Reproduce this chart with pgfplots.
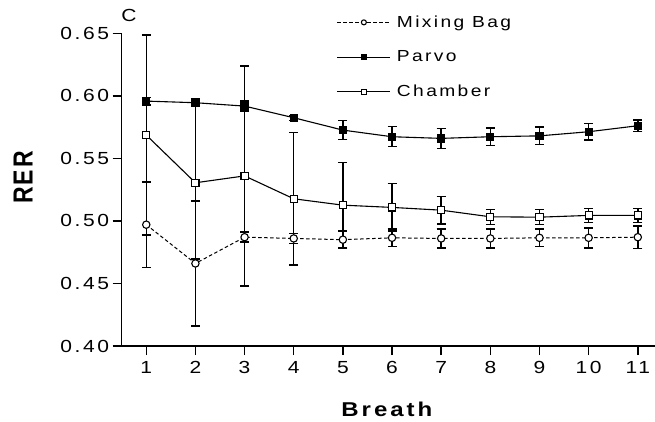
\documentclass[border=0pt]{standalone}
\usepackage{fontspec}
\setmainfont{Liberation Sans}[FakeStretch=1.2, LetterSpace=15]
\newfontfamily\rerfont{Liberation Sans}[LetterSpace=8]
\usepackage{pgfplots}
\pgfplotsset{compat=1.18}
\usepackage{pgfplotstable}

\pgfplotstableread{
x  mb     mbe     pa     pae     ch     che
1  0.497  0.034   0.5958 0.003   0.5686 0.080
2  0.466  0.050   0.5945 0.003   0.5305 0.061
3  0.487  0.004   0.5918 0.004   0.536  0.088
4  0.486  0.004   0.5825 0.002   0.5177 0.053
5  0.485  0.007   0.5726 0.0075  0.5126 0.034
6  0.4865 0.007   0.5673 0.008   0.5108 0.019
7  0.486  0.0075  0.566  0.008   0.5086 0.011
8  0.486  0.0075  0.5673 0.007   0.5033 0.006
9  0.4865 0.007   0.568  0.007   0.503  0.006
10 0.4865 0.008   0.5713 0.0065  0.5044 0.0055
11 0.487  0.009   0.5761 0.0045  0.5044 0.0055
}\datatable

\begin{document}
\begin{tikzpicture}
\begin{axis}[
  scale only axis, width=533.3pt, height=312.7pt,
  xmin=0.5, xmax=11.35, ymin=0.40, ymax=0.65,
  clip=false,
  axis x line*=bottom, axis y line*=left,
  axis line style={line width=1.4pt, -},
  every tick/.style={black, line width=1.4pt},
  major tick length=9pt, tick align=outside,
  xtick={1,...,11}, ytick={0.40,0.45,0.50,0.55,0.60,0.65},
  /pgf/number format/assume math mode=true,
  yticklabel style={/pgf/number format/fixed, /pgf/number format/fixed zerofill, /pgf/number format/precision=2},
  xticklabel style={yshift=-3pt},
  ticklabel style={font=\fontsize{17.5}{20}\selectfont},
  xlabel={\textbf{Breath}},
  ylabel={\scalebox{1}[1.2]{\rerfont\bfseries RER}},
  label style={font=\fontsize{20}{24}\selectfont},
  xlabel style={at={(axis description cs:0.5,-0.201)}, anchor=center},
  ylabel style={at={(axis description cs:-0.185,0.539)}, anchor=center, font=\fontsize{23}{26}\selectfont},
  legend style={draw=none, fill=none, at={(rel axis cs:0.403,1.063)}, anchor=north west,
    font=\fontsize{16}{19}\selectfont, row sep=18pt, inner sep=0pt},
  legend cell align=left,
  legend image code/.code={\draw[mark repeat=2, mark phase=2, #1, mark size=2.5pt] plot coordinates {(0pt,0pt) (26.5pt,0pt) (53pt,0pt)}; \path (57pt,0pt);},
  every axis plot/.append style={line width=1pt, black},
]
% error bars first
\addplot[forget plot, draw=none, error bars/.cd, y dir=both, y explicit,
  error bar style={line width=1.4pt, black, solid},
  error mark options={rotate=90, mark size=4.5pt, line width=1.4pt, black, solid}]
  table[x=x, y=mb, y error=mbe] {\datatable};
\addplot[forget plot, draw=none, error bars/.cd, y dir=both, y explicit,
  error bar style={line width=1.4pt, black, solid},
  error mark options={rotate=90, mark size=4.5pt, line width=1.4pt, black, solid}]
  table[x=x, y=pa, y error=pae] {\datatable};
\addplot[forget plot, draw=none, error bars/.cd, y dir=both, y explicit,
  error bar style={line width=1.4pt, black, solid},
  error mark options={rotate=90, mark size=4.5pt, line width=1.4pt, black, solid}]
  table[x=x, y=ch, y error=che] {\datatable};
% lines with markers
\addplot[black, line width=1pt, dash pattern=on 3.5pt off 2.5pt, mark=*, mark size=3.7pt,
  mark options={solid, fill=white, line width=1.1pt}]
  table[x=x, y=mb] {\datatable};
\addlegendentry{Mixing Bag}
\addplot[black, line width=1.1pt, mark=square*, mark size=3.6pt,
  mark options={solid, fill=black}]
  table[x=x, y=pa] {\datatable};
\addlegendentry{Parvo}
\addplot[black, line width=1.1pt, mark=square*, mark size=3.6pt,
  mark options={solid, fill=white, line width=1.1pt}]
  table[x=x, y=ch] {\datatable};
\addlegendentry{Chamber}
\end{axis}
\node[font=\fontsize{17.5}{20}\selectfont] at ([xshift=7.3pt,yshift=17.8pt]current axis.north west) {C};
\pgfresetboundingbox
\path[use as bounding box] ([shift={(-121.7pt,-75pt)}]current axis.south west) rectangle ([shift={(0pt,33.3pt)}]current axis.north east);
\end{tikzpicture}
\end{document}
